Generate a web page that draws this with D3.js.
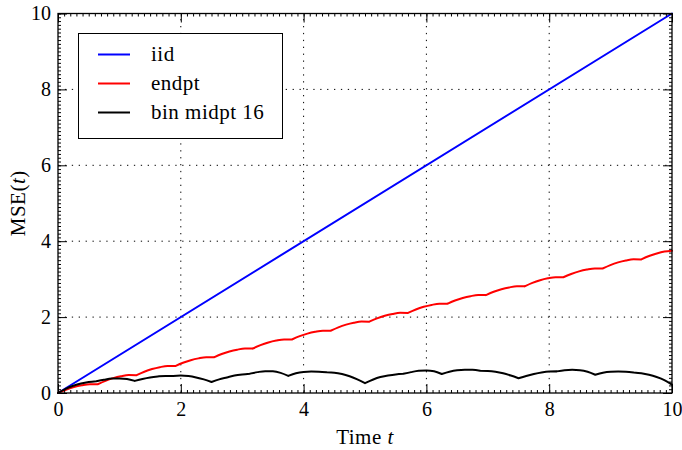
<!DOCTYPE html>
<html>
<head>
<meta charset="utf-8">
<script src="https://cdn.jsdelivr.net/npm/d3@7"></script>
<style>
  html, body { margin: 0; padding: 0; background: #fff; }
  svg { display: block; }
  text { font-family: "Liberation Serif", "DejaVu Serif", serif; fill: #000; }
</style>
</head>
<body>
<svg id="chart" width="682" height="450"></svg>
<script>
// Exact-sampling reference: MSE grows linearly
const iidT = [0, 10];
const iidV = [0, 10];

// Endpoint approximation: samples and the kink times between pieces
const endptT = [0, 0.129, 0.258, 0.388, 0.517, 0.646, 0.773, 0.900, 1.026, 1.153, 1.28, 1.406, 1.532, 1.658, 1.784,
  1.91, 2.036, 2.162, 2.288, 2.414, 2.54, 2.666, 2.792, 2.918, 3.044, 3.17, 3.298, 3.426, 3.554, 3.682,
  3.81, 3.936, 4.062, 4.188, 4.314, 4.44, 4.566, 4.692, 4.818, 4.944, 5.07, 5.196, 5.322, 5.448, 5.574,
  5.70, 5.828, 5.956, 6.084, 6.212, 6.34, 6.466, 6.592, 6.718, 6.844, 6.97, 7.096, 7.222, 7.348, 7.474,
  7.60, 7.726, 7.852, 7.978, 8.104, 8.23, 8.358, 8.486, 8.614, 8.742, 8.87, 8.996, 9.122, 9.248, 9.374,
  9.50, 9.626, 9.752, 9.878, 10.0];
const endptV = [0, 0.087, 0.154, 0.202, 0.232, 0.23, 0.321, 0.391, 0.441, 0.472, 0.47, 0.561, 0.631, 0.681, 0.712,
  0.71, 0.797, 0.864, 0.912, 0.942, 0.94, 1.027, 1.094, 1.142, 1.172, 1.17, 1.261, 1.331, 1.381, 1.412,
  1.41, 1.497, 1.564, 1.612, 1.642, 1.64, 1.731, 1.801, 1.851, 1.882, 1.88, 1.967, 2.034, 2.082, 2.112,
  2.11, 2.201, 2.271, 2.321, 2.352, 2.35, 2.437, 2.504, 2.552, 2.582, 2.58, 2.667, 2.734, 2.782, 2.812,
  2.81, 2.901, 2.971, 3.021, 3.052, 3.05, 3.137, 3.204, 3.252, 3.282, 3.28, 3.371, 3.441, 3.491, 3.522,
  3.52, 3.609, 3.677, 3.727, 3.75];
const endptKnots = [0, 0.646, 1.28, 1.91, 2.54, 3.17, 3.81, 4.44, 5.07, 5.70, 6.34, 6.97, 7.60, 8.23, 8.87, 9.50, 10];

// Binned midpoint rule with 16 bins
const binT = [0, 0.125, 0.25, 0.375, 0.5, 0.625, 0.75, 0.875, 1.0, 1.125, 1.25, 1.375, 1.5, 1.625, 1.75,
  1.875, 2.0, 2.125, 2.25, 2.375, 2.5, 2.625, 2.75, 2.875, 3.0, 3.125, 3.25, 3.375, 3.5, 3.625,
  3.75, 3.875, 4.0, 4.125, 4.25, 4.375, 4.5, 4.625, 4.75, 4.875, 5.0, 5.125, 5.25, 5.375, 5.5,
  5.625, 5.75, 5.875, 6.0, 6.125, 6.25, 6.375, 6.5, 6.625, 6.75, 6.875, 7.0, 7.125, 7.25, 7.375,
  7.5, 7.625, 7.75, 7.875, 8.0, 8.125, 8.25, 8.375, 8.5, 8.625, 8.75, 8.875, 9.0, 9.125, 9.25,
  9.375, 9.5, 9.625, 9.75, 9.875, 10.0];
const binV = [0, 0.11, 0.19, 0.25, 0.29, 0.31, 0.35, 0.38, 0.385, 0.37, 0.32, 0.37, 0.41, 0.435, 0.45,
  0.45, 0.46, 0.445, 0.41, 0.36, 0.29, 0.36, 0.41, 0.46, 0.49, 0.51, 0.55, 0.575, 0.57, 0.53,
  0.45, 0.52, 0.555, 0.565, 0.56, 0.545, 0.535, 0.50, 0.44, 0.36, 0.26, 0.35, 0.42, 0.46, 0.49,
  0.505, 0.55, 0.585, 0.595, 0.575, 0.50, 0.56, 0.60, 0.615, 0.61, 0.585, 0.58, 0.56, 0.52, 0.46,
  0.39, 0.45, 0.50, 0.54, 0.565, 0.57, 0.60, 0.61, 0.60, 0.56, 0.48, 0.535, 0.56, 0.565, 0.56,
  0.54, 0.52, 0.48, 0.42, 0.34, 0.22];
const binKnots = [0, 0.625, 1.25, 1.875, 2.5, 3.125, 3.75, 4.375, 5.0, 5.625, 6.25, 6.875, 7.5, 8.125, 8.75, 9.375, 10];

const seriesNames = ["iid", "endpt", "bin midpt 16"];
const seriesColors = ["#0000ff", "#ff0000", "#000000"];
const xTicks = [0, 2, 4, 6, 8, 10];
const yTicks = [0, 2, 4, 6, 8, 10];

const svg = d3.select("#chart");
const margin = { left: 58, right: 10, top: 13.5, bottom: 57 };
const W = 682, H = 450;
const x = d3.scaleLinear().domain([0, 10]).range([margin.left, W - margin.right]);
const y = d3.scaleLinear().domain([0, 10]).range([H - margin.bottom, margin.top]);

const tickFont = 20;
const labelFont = 21;
const labelSpacing = 0.5;

// dotted grid
const grid = svg.append("g").attr("stroke", "#000").attr("stroke-width", 1).attr("stroke-dasharray", "1.3,5.6");
grid.selectAll("line.gx").data(xTicks.slice(1, -1)).join("line")
  .attr("x1", d => x(d)).attr("x2", d => x(d)).attr("y1", y(0)).attr("y2", y(10));
grid.selectAll("line.gy").data(yTicks.slice(1, -1)).join("line")
  .attr("y1", d => y(d)).attr("y2", d => y(d)).attr("x1", x(0)).attr("x2", x(10));

// build piecewise curves, keeping the kinks between pieces sharp
function piecewisePath(ts, vs, knots) {
  const pts = ts.map((t, i) => [t, vs[i]]);
  const line = d3.line().x(d => x(d[0])).y(d => y(d[1])).curve(d3.curveMonotoneX);
  let dStr = "";
  for (let i = 0; i < knots.length - 1; i++) {
    const seg = pts.filter(p => p[0] >= knots[i] - 1e-9 && p[0] <= knots[i + 1] + 1e-9);
    if (seg.length > 1) dStr += line(seg);
  }
  return dStr;
}

const lines = svg.append("g").attr("fill", "none").attr("stroke-width", 2)
  .attr("stroke-linejoin", "round").attr("stroke-linecap", "round");

lines.append("path")
  .attr("d", d3.line().x((d, i) => x(iidT[i])).y(d => y(d))(iidV))
  .attr("stroke", seriesColors[0]);
lines.append("path")
  .attr("d", piecewisePath(endptT, endptV, endptKnots))
  .attr("stroke", seriesColors[1]);
lines.append("path")
  .attr("d", piecewisePath(binT, binV, binKnots))
  .attr("stroke", seriesColors[2]);

// axes: ticks point inward on all four sides
const axes = svg.append("g");
function styleAxis(g) {
  g.select(".domain").remove();
  g.selectAll(".tick line").attr("stroke", "#000").attr("stroke-width", 1);
  g.selectAll("text").attr("font-size", tickFont).style("font-family", "'Liberation Serif', serif");
}
const minorX = d3.range(0, 101).map(i => i / 10);
const minorY = d3.range(0, 101).map(i => i / 10);

axes.append("g").attr("transform", `translate(0,${y(0)})`)
  .call(d3.axisBottom(x).tickValues(minorX).tickSize(-3).tickFormat(""))
  .call(styleAxis);
axes.append("g").attr("transform", `translate(0,${y(10)})`)
  .call(d3.axisTop(x).tickValues(minorX).tickSize(-3).tickFormat(""))
  .call(styleAxis);
axes.append("g").attr("transform", `translate(${x(0)},0)`)
  .call(d3.axisLeft(y).tickValues(minorY).tickSize(-3).tickFormat(""))
  .call(styleAxis);
axes.append("g").attr("transform", `translate(${x(10)},0)`)
  .call(d3.axisRight(y).tickValues(minorY).tickSize(-3).tickFormat(""))
  .call(styleAxis);

axes.append("g").attr("transform", `translate(0,${y(0)})`)
  .call(d3.axisBottom(x).tickValues(xTicks).tickSize(-9).tickPadding(9).tickFormat(d3.format("d")))
  .call(styleAxis);
axes.append("g").attr("transform", `translate(0,${y(10)})`)
  .call(d3.axisTop(x).tickValues(xTicks).tickSize(-9).tickFormat(""))
  .call(styleAxis);
axes.append("g").attr("transform", `translate(${x(0)},0)`)
  .call(d3.axisLeft(y).tickValues(yTicks).tickSize(-9).tickPadding(7).tickFormat(d3.format("d")))
  .call(styleAxis);
axes.append("g").attr("transform", `translate(${x(10)},0)`)
  .call(d3.axisRight(y).tickValues(yTicks).tickSize(-9).tickFormat(""))
  .call(styleAxis);

// frame
svg.append("rect")
  .attr("x", x(0)).attr("y", y(10))
  .attr("width", x(10) - x(0)).attr("height", y(0) - y(10))
  .attr("fill", "none").attr("stroke", "#000").attr("stroke-width", 1.3);

// axis titles
const xt = svg.append("text").attr("x", (x(0) + x(10)) / 2).attr("y", 444)
  .attr("text-anchor", "middle").attr("font-size", labelFont).attr("letter-spacing", labelSpacing);
xt.append("tspan").text("Time ");
xt.append("tspan").attr("font-style", "italic").text("t");

const yt = svg.append("text")
  .attr("transform", `translate(25,${(y(0) + y(10)) / 2}) rotate(-90)`)
  .attr("text-anchor", "middle").attr("font-size", labelFont).attr("letter-spacing", labelSpacing);
yt.append("tspan").text("MSE(");
yt.append("tspan").attr("font-style", "italic").text("t");
yt.append("tspan").text(")");

// legend
const lg = svg.append("g");
lg.append("rect").attr("x", 78.5).attr("y", 33.5).attr("width", 204).attr("height", 105)
  .attr("fill", "#fff").attr("stroke", "#000").attr("stroke-width", 1);
seriesNames.forEach((name, i) => {
  const ry = 54.5 + i * 29;
  lg.append("line").attr("x1", 98).attr("x2", 130).attr("y1", ry).attr("y2", ry)
    .attr("stroke", seriesColors[i]).attr("stroke-width", 2);
  lg.append("text").attr("x", 151).attr("y", ry + 6.5).attr("font-size", labelFont)
    .attr("letter-spacing", labelSpacing).text(name);
});
</script>
</body>
</html>
